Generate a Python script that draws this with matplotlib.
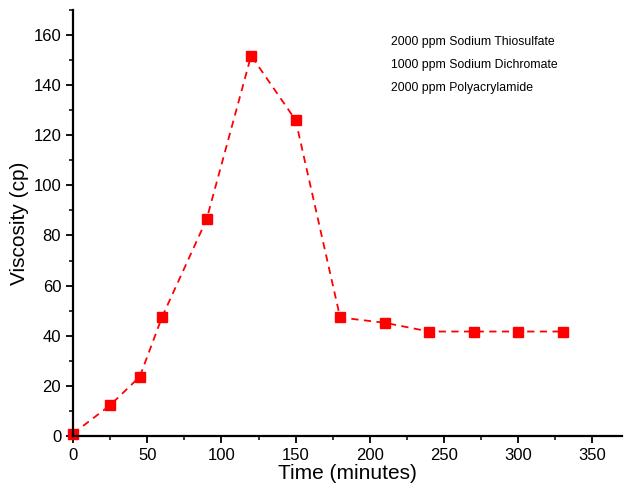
import numpy as np
import matplotlib.pyplot as plt
from matplotlib.ticker import MultipleLocator

time_min = [0, 25, 45, 60, 90, 120, 150, 180, 210, 240, 270, 300, 330]
viscosity = [1, 12.3, 23.7, 47.5, 86.4, 151.7, 126, 47.3, 45.2, 41.7, 41.7, 41.7, 41.7]
notes = ['2000 ppm Sodium Thiosulfate',
         '1000 ppm Sodium Dichromate',
         '2000 ppm Polyacrylamide']

plt.rcParams['font.family'] = ['Liberation Sans', 'DejaVu Sans']

fig = plt.figure(figsize=(6.24, 4.9), dpi=100)
ax = fig.add_axes([0.117, 0.110, 0.880, 0.870])

ax.plot(time_min, viscosity, color='#ff0000', linestyle='--', linewidth=1.3,
        dashes=(4, 3), marker='s', markersize=6.5, clip_on=False)

ax.set_xlim(0, 370)
ax.set_ylim(0, 170)
ax.xaxis.set_minor_locator(MultipleLocator(25))
ax.yaxis.set_major_locator(MultipleLocator(20))
ax.yaxis.set_minor_locator(MultipleLocator(10))
ax.set_xticks(np.arange(0, 351, 50))

for s in ['top', 'right']:
    ax.spines[s].set_visible(False)
for s in ['left', 'bottom']:
    ax.spines[s].set_linewidth(1.6)
ax.tick_params(which='major', direction='out', length=5, width=1.3, labelsize=12)
ax.tick_params(which='minor', direction='out', length=3, width=1.1)

ax.set_xlabel('Time (minutes)', fontsize=15, labelpad=1)
ax.set_ylabel('Viscosity (cp)', fontsize=15, labelpad=3)

for i, t in enumerate(notes):
    ax.text(0.579, 0.925 - i * 0.054, t, transform=ax.transAxes, fontsize=8.8,
            va='center', ha='left')

fig.savefig('out.png', dpi=100)
